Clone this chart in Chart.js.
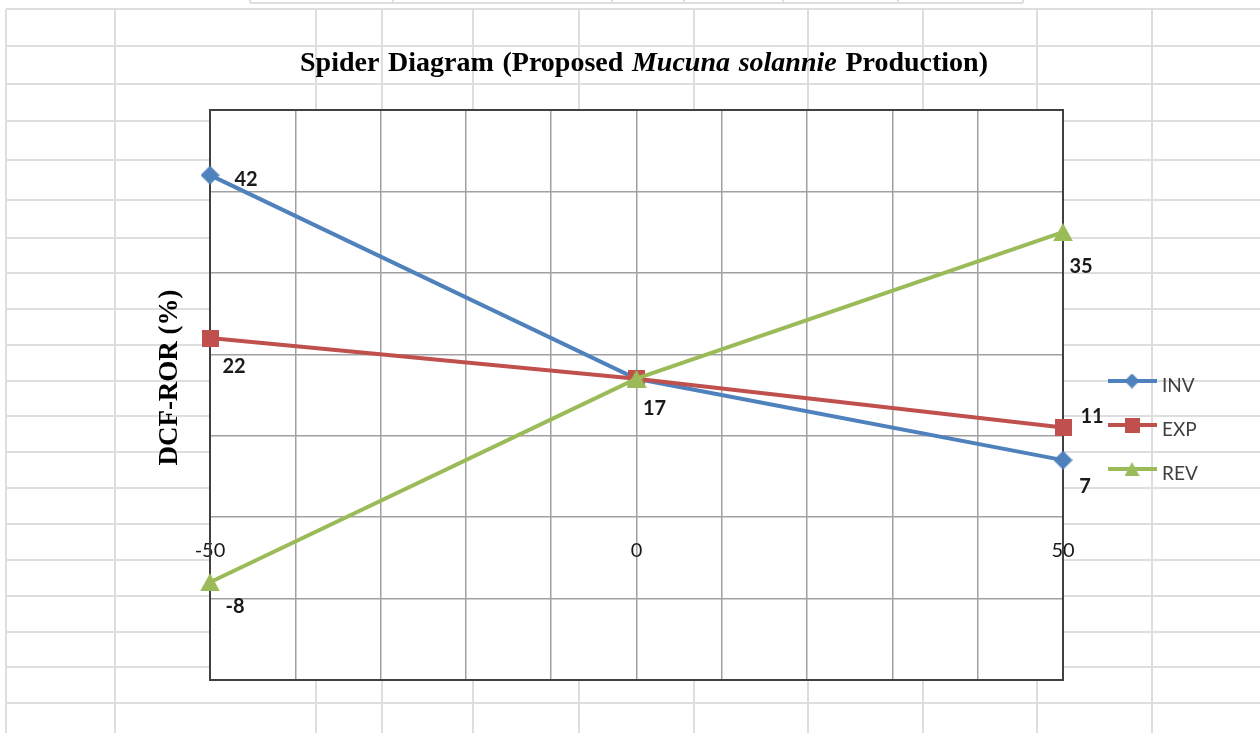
<!DOCTYPE html>
<html>
<head>
<meta charset="utf-8">
<script src="https://cdn.jsdelivr.net/npm/chart.js@4.4.1/dist/chart.umd.min.js"></script>
<style>
html, body { margin: 0; padding: 0; background: #ffffff; }
#wrap { position: relative; width: 1260px; height: 733px; overflow: hidden; }
canvas { display: block; }
</style>
</head>
<body>
<div id="wrap"><canvas id="c" width="1260" height="733"></canvas></div>
<script>
// ---------------- data ----------------
const xValues = [-50, 0, 50];
const invValues = [42, 17, 7];
const expValues = [22, 17, 11];
const revValues = [-8, 17, 35];
const seriesNames = ['INV', 'EXP', 'REV'];
const xTickLabels = [-50, 0, 50];
const yMinMax = [-20, 50];
const titleWords = [
  { text: 'Spider', italic: false },
  { text: 'Diagram', italic: false },
  { text: '(Proposed', italic: false },
  { text: 'Mucuna', italic: true },
  { text: 'solannie', italic: true },
  { text: 'Production)', italic: false }
];
const yAxisTitle = 'DCF-ROR (%)';

// which point labels are shown (style) and their offsets from the point (style)
const labelOffsets = {
  INV: [[36, 4], null, [22, 26]],
  EXP: [[24, 29], null, [29, -11]],
  REV: [[25, 24], [18, 30], [18, 34]]
};

// ---------------- styles ----------------
const colors = { INV: '#4f81bd', EXP: '#c0504d', REV: '#9bbb59' };
const shapes = { INV: 'diamond', EXP: 'square', REV: 'triangle' };

function makeMarker(shape, w, h, color) {
  const c = document.createElement('canvas');
  c.width = w; c.height = h;
  const g = c.getContext('2d');
  g.fillStyle = color;
  g.beginPath();
  if (shape === 'diamond') {
    g.moveTo(w / 2, 0); g.lineTo(w, h / 2); g.lineTo(w / 2, h); g.lineTo(0, h / 2);
  } else if (shape === 'square') {
    g.rect(0, 0, w, h);
  } else {
    g.moveTo(w / 2, 0); g.lineTo(w, h); g.lineTo(0, h);
  }
  g.closePath();
  g.fill();
  return c;
}
const markerSize = { diamond: [19, 19], square: [17, 17], triangle: [20, 18] };
const legendMarkerSize = { diamond: [15, 15], square: [15, 15], triangle: [15, 14] };

const sheetCols = [6, 115, 316, 382, 473, 579, 694, 808, 923, 1037, 1152];
const sheetRows = [9, 46, 84, 121, 160, 200, 238, 273, 309, 345, 381, 416, 452, 488, 524, 560, 596, 632, 667, 703];
const topStripCols = [250, 393, 612, 684, 783, 898, 1023];

const seriesValues = [invValues, expValues, revValues];

const datasets = seriesNames.map((name, si) => {
  const sz = markerSize[shapes[name]];
  return {
    label: name,
    data: xValues.map((x, i) => ({ x: x, y: seriesValues[si][i] })),
    borderColor: colors[name],
    backgroundColor: colors[name],
    borderWidth: 4,
    tension: 0,
    pointStyle: makeMarker(shapes[name], sz[0], sz[1], colors[name]),
    pointRadius: 10,
    pointHoverRadius: 10,
    clip: false,
    order: seriesNames.length - si
  };
});

const decorPlugin = {
  id: 'decor',
  beforeDraw(chart) {
    const ctx = chart.ctx;
    const a = chart.chartArea;
    ctx.save();
    ctx.strokeStyle = '#dedede';
    ctx.lineWidth = 2;
    sheetRows.forEach(y => { ctx.beginPath(); ctx.moveTo(sheetCols[0], y); ctx.lineTo(1260, y); ctx.stroke(); });
    sheetCols.forEach(x => { ctx.beginPath(); ctx.moveTo(x, sheetRows[0]); ctx.lineTo(x, 733); ctx.stroke(); });
    // partial header strip at top
    ctx.beginPath(); ctx.moveTo(topStripCols[0], 3); ctx.lineTo(topStripCols[topStripCols.length - 1], 3); ctx.stroke();
    topStripCols.forEach(x => { ctx.beginPath(); ctx.moveTo(x, 0); ctx.lineTo(x, 3); ctx.stroke(); });
    // white plot area
    ctx.fillStyle = '#ffffff';
    ctx.fillRect(a.left, a.top, a.right - a.left, a.bottom - a.top);
    ctx.restore();
  },
  beforeDatasetsDraw(chart) {
    const ctx = chart.ctx;
    const a = chart.chartArea;
    ctx.save();
    ctx.strokeStyle = '#404040';
    ctx.lineWidth = 2;
    ctx.strokeRect(a.left, a.top, a.right - a.left, a.bottom - a.top);
    ctx.restore();
  },
  afterDraw(chart) {
    const ctx = chart.ctx;
    ctx.save();
    // ---- data labels ----
    ctx.font = 'bold 20px Lato';
    ctx.fillStyle = '#1a1a1a';
    ctx.textAlign = 'center';
    ctx.textBaseline = 'middle';
    chart.data.datasets.forEach((ds, di) => {
      const meta = chart.getDatasetMeta(di);
      const offs = labelOffsets[ds.label];
      meta.data.forEach((pt, i) => {
        const o = offs[i];
        if (!o) return;
        ctx.fillText(String(ds.data[i].y), pt.x + o[0], pt.y + o[1]);
      });
    });
    // ---- legend ----
    const legendY = [381, 425, 469];
    chart.data.datasets.forEach((ds, di) => {
      const y = legendY[di];
      ctx.strokeStyle = ds.borderColor;
      ctx.lineWidth = 4;
      ctx.beginPath(); ctx.moveTo(1108, y); ctx.lineTo(1157, y); ctx.stroke();
      const ms = legendMarkerSize[shapes[ds.label]];
      const img = makeMarker(shapes[ds.label], ms[0], ms[1], ds.borderColor);
      ctx.drawImage(img, 1132 - ms[0] / 2, y - ms[1] / 2);
      ctx.font = '19px Lato';
      ctx.fillStyle = '#404040';
      ctx.textAlign = 'left';
      ctx.textBaseline = 'alphabetic';
      ctx.fillText(ds.label, 1162, y + 10.5);
    });
    // ---- title ----
    const fontN = 'bold 28px "Liberation Serif"';
    const fontI = 'italic bold 28px "Liberation Serif"';
    let total = 0;
    const widths = titleWords.map(w => { ctx.font = w.italic ? fontI : fontN; const m = ctx.measureText(w.text).width; total += m; return m; });
    const startX = 300, endX = 988;
    const gap = (endX - startX - total) / (titleWords.length - 1);
    let x = startX;
    ctx.fillStyle = '#000000';
    ctx.textAlign = 'left';
    ctx.textBaseline = 'alphabetic';
    titleWords.forEach((w, i) => {
      ctx.font = w.italic ? fontI : fontN;
      ctx.fillText(w.text, x, 71);
      x += widths[i] + gap;
    });
    // ---- y axis title ----
    ctx.translate(177, 377.5);
    ctx.rotate(-Math.PI / 2);
    ctx.font = 'bold 27px "Liberation Serif"';
    ctx.textAlign = 'center';
    ctx.fillText(yAxisTitle, 0, 0);
    ctx.restore();
  }
};

Chart.defaults.font.family = 'Lato';

new Chart(document.getElementById('c'), {
  type: 'line',
  data: { datasets: datasets },
  plugins: [decorPlugin],
  options: {
    responsive: false,
    animation: false,
    events: [],
    layout: { padding: { left: 210, right: 197, top: 110, bottom: 53 } },
    plugins: { legend: { display: false }, title: { display: false }, tooltip: { enabled: false } },
    scales: {
      x: {
        type: 'linear',
        min: xTickLabels[0],
        max: xTickLabels[xTickLabels.length - 1],
        position: { y: 0 },
        grid: { color: '#a0a0a0', lineWidth: 1.5, drawTicks: false },
        border: { display: false },
        ticks: {
          stepSize: 10,
          autoSkip: false,
          maxRotation: 0,
          padding: 21,
          color: '#1a1a1a',
          font: { family: 'Lato', size: 20 },
          callback: (v) => xTickLabels.includes(v) ? String(v) : ''
        }
      },
      y: {
        type: 'linear',
        min: yMinMax[0],
        max: yMinMax[1],
        grid: { color: '#a0a0a0', lineWidth: 1.5, drawTicks: false },
        border: { display: false },
        ticks: { display: false, stepSize: 10 }
      }
    }
  }
});
</script>
</body>
</html>
